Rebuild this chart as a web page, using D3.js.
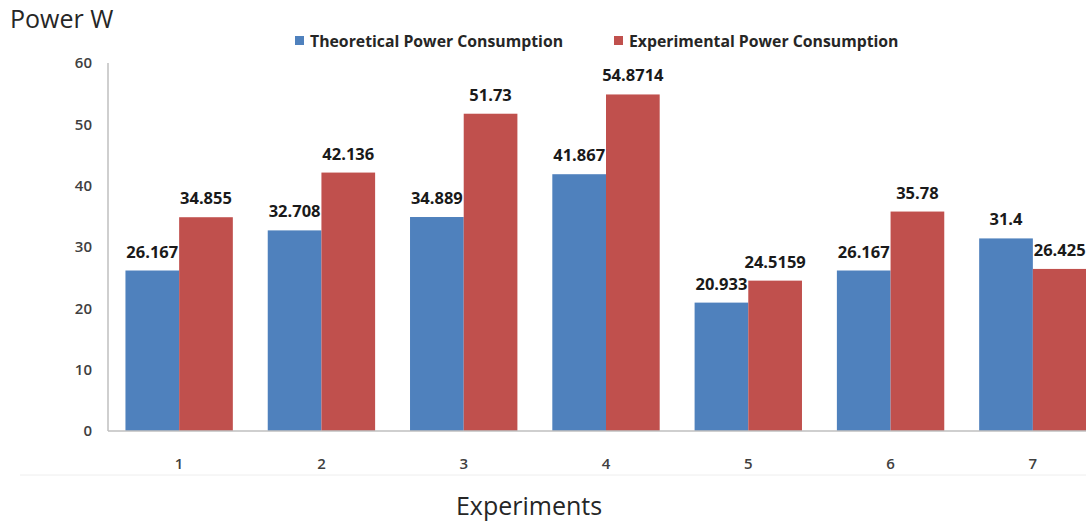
<!DOCTYPE html>
<html>
<head>
<meta charset="utf-8">
<script src="https://cdn.jsdelivr.net/npm/d3@7"></script>
<style>
  body { margin: 0; background: #fff; }
  svg { display: block; font-family: "Open Sans", "Liberation Sans", Arial, sans-serif; }
</style>
</head>
<body>
<div id="container"></div>
<script>
var experiments = ["1", "2", "3", "4", "5", "6", "7"];
var theoretical = [26.167, 32.708, 34.889, 41.867, 20.933, 26.167, 31.4];
var experimental = [34.855, 42.136, 51.73, 54.8714, 24.5159, 35.78, 26.425];
var labelsTheo = ["26.167", "32.708", "34.889", "41.867", "20.933", "26.167", "31.4"];
var labelsExp = ["34.855", "42.136", "51.73", "54.8714", "24.5159", "35.78", "26.425"];
var seriesNames = ["Theoretical Power Consumption", "Experimental Power Consumption"];
var yTicks = [0, 10, 20, 30, 40, 50, 60];

const width = 1086;
const height = 521;
const colors = ["#4F81BD", "#C0504D"];

const svg = d3.select("#container").append("svg")
    .attr("width", width)
    .attr("height", height);

const x = d3.scaleBand()
    .domain(experiments)
    .range([108, 1104]);

const inner = d3.scaleBand()
    .domain([0, 1])
    .range([0, x.bandwidth()])
    .paddingOuter(0.197 / 0.606)   // excel-ish gap width
    .paddingInner(0);

const y = d3.scaleLinear()
    .domain([0, 60])
    .range([431, 63]);

// y axis line
svg.append("line")
  .attr("x1", 108).attr("x2", 108)
  .attr("y1", y(60)).attr("y2", y(0))
  .attr("stroke", "#bfbfbf").attr("stroke-width", 1.5);

// y tick labels
svg.selectAll(".ytick")
  .data(yTicks)
  .enter().append("text")
  .attr("class", "ytick")
  .attr("x", 92)
  .attr("y", d => y(d))
  .attr("dy", "0.35em")
  .attr("text-anchor", "end")
  .attr("font-size", 15)
  .attr("font-weight", 600)
  .attr("fill", "#404040")
  .text(d => d);

const groups = svg.selectAll(".grp")
  .data(experiments)
  .enter().append("g")
  .attr("class", "grp")
  .attr("transform", d => "translate(" + x(d) + ",0)");

groups.each(function(cat, i) {
  var vals = [theoretical[i], experimental[i]];
  var labs = [labelsTheo[i], labelsExp[i]];
  var g = d3.select(this);
  g.selectAll("rect")
    .data(vals)
    .enter().append("rect")
    .attr("x", (v, j) => inner(j))
    .attr("y", v => y(v))
    .attr("width", inner.bandwidth())
    .attr("height", v => y(0) - y(v))
    .attr("fill", (v, j) => colors[j]);
  g.selectAll("text.lab")
    .data(vals)
    .enter().append("text")
    .attr("class", "lab")
    .attr("x", (v, j) => inner(j) + inner.bandwidth() / 2)
    .attr("y", v => y(v) - 13)
    .attr("text-anchor", "middle")
    .attr("font-size", 16.5)
    .attr("font-weight", "bold")
    .attr("fill", "#1a1a1a")
    .text((v, j) => labs[j]);
});

// x axis line
svg.append("line")
  .attr("x1", 108).attr("x2", width)
  .attr("y1", y(0)).attr("y2", y(0))
  .attr("stroke", "#bfbfbf").attr("stroke-width", 1.5);

// x tick labels
svg.selectAll(".xtick")
  .data(experiments)
  .enter().append("text")
  .attr("class", "xtick")
  .attr("x", d => x(d) + x.bandwidth() / 2)
  .attr("y", 469)
  .attr("text-anchor", "middle")
  .attr("font-size", 15)
  .attr("font-weight", 600)
  .attr("fill", "#404040")
  .text(d => d);

// faint border line
svg.append("line")
  .attr("x1", 20).attr("x2", width)
  .attr("y1", 475).attr("y2", 475)
  .attr("stroke", "#eeeeee");

// titles
svg.append("text")
  .attr("x", 10).attr("y", 28)
  .attr("font-size", 25)
  .attr("fill", "#262626")
  .text("Power W");

svg.append("text")
  .attr("x", 529).attr("y", 515)
  .attr("text-anchor", "middle")
  .attr("font-size", 25)
  .attr("fill", "#262626")
  .text("Experiments");

// legend
var legendX = [295, 614];
var legend = svg.selectAll(".leg")
  .data(seriesNames)
  .enter().append("g")
  .attr("class", "leg")
  .attr("transform", (d, i) => "translate(" + legendX[i] + ",41)");
legend.append("rect")
  .attr("x", 0).attr("y", -5)
  .attr("width", 9).attr("height", 9)
  .attr("fill", (d, i) => colors[i]);
legend.append("text")
  .attr("x", 15)
  .attr("dy", "0.35em")
  .attr("font-size", 15.8)
  .attr("font-weight", "bold")
  .attr("fill", "#262626")
  .text(d => d);
</script>
</body>
</html>
